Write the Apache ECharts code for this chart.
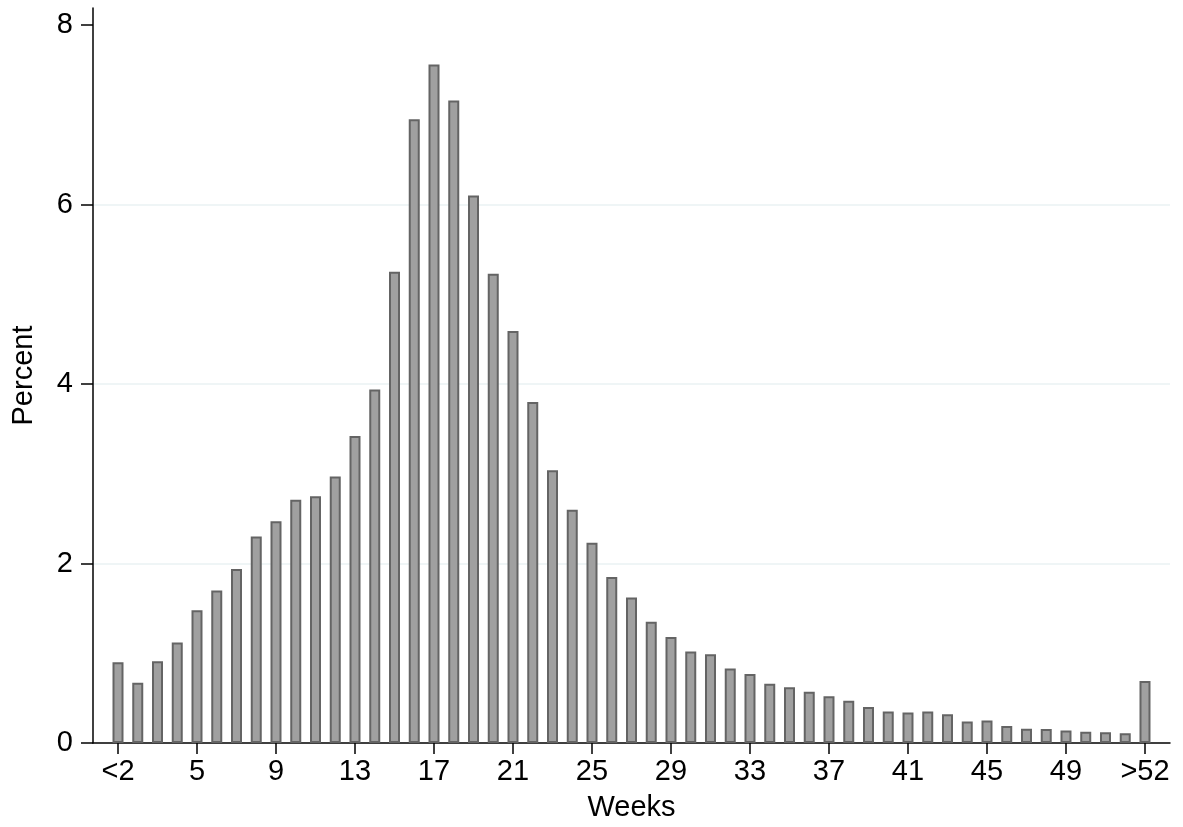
<!DOCTYPE html>
<html>
<head>
<meta charset="utf-8">
<script src="https://cdn.jsdelivr.net/npm/echarts@6/dist/echarts.min.js"></script>
<style>
  html, body { margin: 0; padding: 0; background: #fff; }
  #chart { width: 1183px; height: 827px; }
</style>
</head>
<body>
<div id="chart"></div>
<script>
// week bins: <2, 2 .. 52, >52
const weeks = ['<2'];
for (let w = 2; w <= 52; w++) weeks.push(String(w));
weeks.push('>52');

// percent per bin
const percent = [
  0.90, 0.67, 0.91, 1.12, 1.48, 1.70, 1.94, 2.30, 2.47, 2.71,
  2.75, 2.97, 3.42, 3.94, 5.25, 6.95, 7.56, 7.16, 6.10, 5.23,
  4.59, 3.80, 3.04, 2.60, 2.23, 1.85, 1.62, 1.35, 1.18, 1.02,
  0.99, 0.83, 0.77, 0.66, 0.62, 0.57, 0.52, 0.47, 0.40, 0.35,
  0.34, 0.35, 0.32, 0.24, 0.25, 0.19, 0.16, 0.155, 0.14, 0.125,
  0.12, 0.11, 0.69
];

const xTicks = [0, 4, 8, 12, 16, 20, 24, 28, 32, 36, 40, 44, 48, 52]; // <2, 5, 9 ... 49, >52
const yTicks = [0, 2, 4, 6, 8];

const font = "'Liberation Sans', Arial, sans-serif";

const chart = echarts.init(document.getElementById('chart'));
chart.setOption({
  backgroundColor: '#ffffff',
  animation: false,
  textStyle: { fontFamily: font, fontSize: 29 },
  grid: { left: 93, right: 13, top: 8, bottom: 84 },
  xAxis: {
    type: 'value',
    min: -1.266,
    max: 53.266,
    name: 'Weeks',
    nameLocation: 'middle',
    nameGap: 50,
    nameTextStyle: { fontFamily: font, fontSize: 29, color: '#000' },
    axisLine: { show: true, onZero: false, lineStyle: { color: '#000', width: 1.5 } },
    axisTick: { show: true, length: 11, customValues: xTicks, lineStyle: { color: '#000', width: 1.5 } },
    axisLabel: {
      customValues: xTicks,
      margin: 14,
      fontFamily: font, fontSize: 29, color: '#000',
      formatter: v => weeks[Math.round(v)]
    },
    splitLine: { show: false }
  },
  yAxis: {
    type: 'value',
    min: 0,
    max: 8.19,
    name: 'Percent',
    nameLocation: 'middle',
    nameGap: 55,
    nameTextStyle: { fontFamily: font, fontSize: 29, color: '#000' },
    axisLine: { show: true, onZero: false, lineStyle: { color: '#000', width: 1.5 } },
    axisTick: { show: true, length: 12, customValues: yTicks, lineStyle: { color: '#000', width: 1.5 } },
    axisLabel: {
      customValues: yTicks,
      margin: 20,
      fontFamily: font, fontSize: 29, color: '#000'
    },
    splitLine: {
      show: true,
      showMinLine: false,
      showMaxLine: false,
      lineStyle: { color: '#eaf2f3', width: 1.5 }
    }
  },
  series: [{
    type: 'bar',
    barWidth: 11,
    data: percent.map((v, i) => [i, v]),
    itemStyle: { color: '#a0a0a0', borderColor: '#646464', borderWidth: 2 }
  }]
});
</script>
</body>
</html>
